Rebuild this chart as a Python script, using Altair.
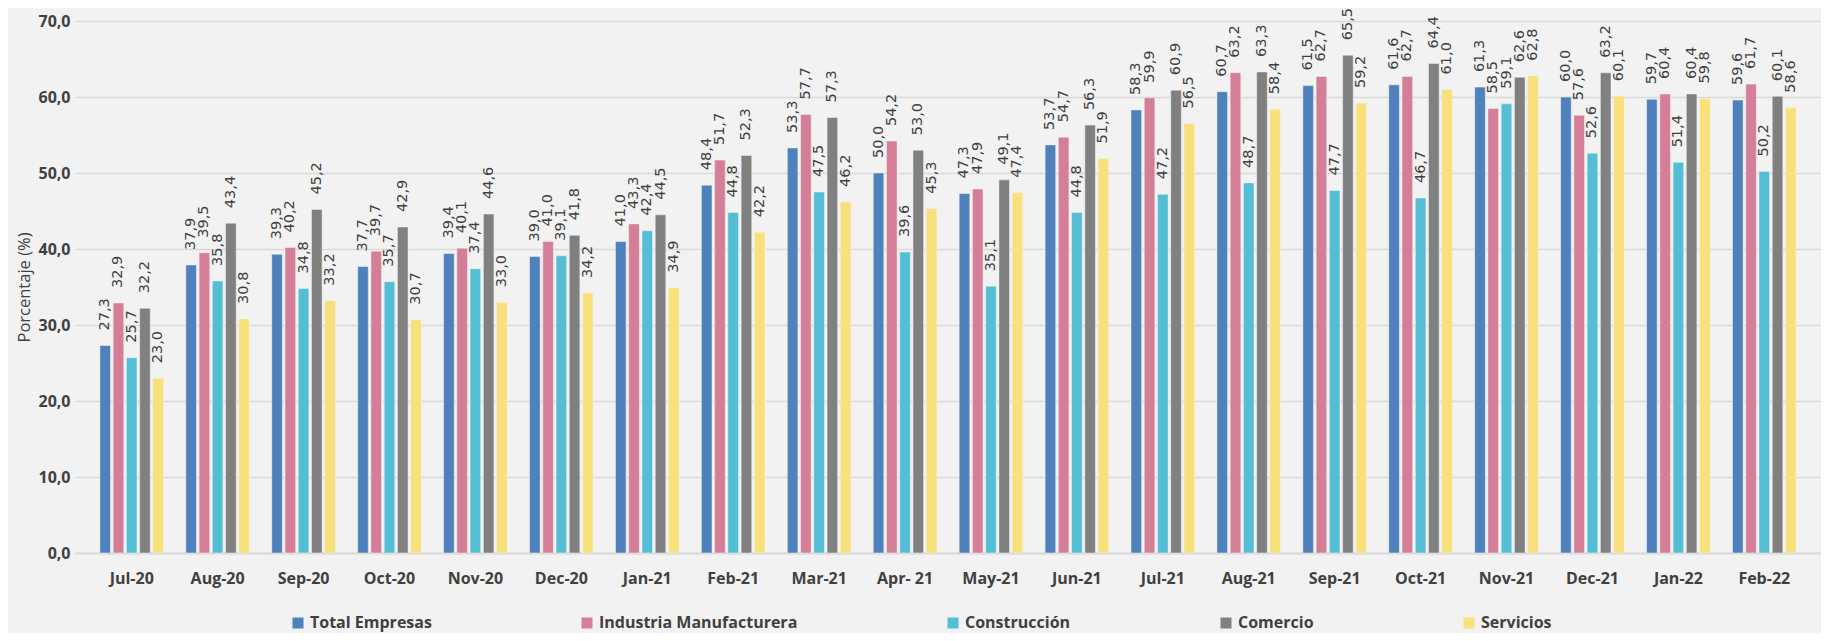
import altair as alt
import pandas as pd

months = ["Jul-20", "Aug-20", "Sep-20", "Oct-20", "Nov-20", "Dec-20", "Jan-21",
          "Feb-21", "Mar-21", "Apr- 21", "May-21", "Jun-21", "Jul-21", "Aug-21",
          "Sep-21", "Oct-21", "Nov-21", "Dec-21", "Jan-22", "Feb-22"]

series = ["Total Empresas", "Industria Manufacturera", "Construcción", "Comercio", "Servicios"]
colors = ["#4f81bd", "#d47e98", "#54bed5", "#808080", "#f8e07a"]

total_empresas = [27.3, 37.9, 39.3, 37.7, 39.4, 39.0, 41.0, 48.4, 53.3, 50.0,
                  47.3, 53.7, 58.3, 60.7, 61.5, 61.6, 61.3, 60.0, 59.7, 59.6]
industria = [32.9, 39.5, 40.2, 39.7, 40.1, 41.0, 43.3, 51.7, 57.7, 54.2,
             47.9, 54.7, 59.9, 63.2, 62.7, 62.7, 58.5, 57.6, 60.4, 61.7]
construccion = [25.7, 35.8, 34.8, 35.7, 37.4, 39.1, 42.4, 44.8, 47.5, 39.6,
                35.1, 44.8, 47.2, 48.7, 47.7, 46.7, 59.1, 52.6, 51.4, 50.2]
comercio = [32.2, 43.4, 45.2, 42.9, 44.6, 41.8, 44.5, 52.3, 57.3, 53.0,
            49.1, 56.3, 60.9, 63.3, 65.5, 64.4, 62.6, 63.2, 60.4, 60.1]
servicios = [23.0, 30.8, 33.2, 30.7, 33.0, 34.2, 34.9, 42.2, 46.2, 45.3,
             47.4, 51.9, 56.5, 58.4, 59.2, 61.0, 62.8, 60.1, 59.8, 58.6]

y_ticks = [0, 10, 20, 30, 40, 50, 60, 70]

values = [total_empresas, industria, construccion, comercio, servicios]
rows = []
for s, vals in zip(series, values):
    for m, v in zip(months, vals):
        rows.append({"mes": m, "serie": s, "valor": v,
                     "etiqueta": f"{v:.1f}".replace(".", ",")})
df = pd.DataFrame(rows)

x_scale = alt.Scale(paddingInner=0.26, paddingOuter=0.29)
y_scale = alt.Scale(domain=[0, 70], nice=False)

x_enc = alt.X("mes:N", sort=months, title=None, scale=x_scale,
              axis=alt.Axis(labelAngle=0, ticks=False, domain=True,
                            domainColor="#d9d9d9", domainWidth=2,
                            labelPadding=17, grid=False))
xoff = alt.XOffset("serie:N", sort=series, scale=alt.Scale(paddingInner=0.2))
y_enc = alt.Y("valor:Q", title="Porcentaje (%)", scale=y_scale,
              axis=alt.Axis(values=y_ticks,
                            labelExpr="replace(format(datum.value, '.1f'), '.', ',')",
                            ticks=False, domain=False, grid=True,
                            gridColor="#d9d9d9", gridWidth=1.5,
                            labelPadding=5, titlePadding=5,
                            titleFontSize=16.5))
color_enc = alt.Color("serie:N", sort=series,
                      scale=alt.Scale(domain=series, range=colors),
                      legend=alt.Legend(title=None, orient="none",
                                        direction="horizontal",
                                        legendX=215, legendY=594,
                                        symbolType="square", symbolSize=121,
                                        symbolStrokeWidth=0,
                                        labelFont="Open Sans", labelFontSize=16,
                                        labelFontWeight="bold",
                                        labelColor="#404040", labelLimit=400,
                                        labelOffset=4, columnPadding=147,
                                        padding=0))

bars = alt.Chart(df).mark_bar(stroke="#f2f2f2", strokeWidth=0.5).encode(
    x=x_enc, xOffset=xoff, y=y_enc, color=color_enc
)

labels = alt.Chart(df).mark_text(
    angle=270, align="left", baseline="middle", dx=15,
    font="DejaVu Sans", fontSize=14.5, color="#404040"
).encode(
    x=x_enc,
    xOffset=xoff,
    y=y_enc,
    text="etiqueta:N"
)

chart = alt.layer(bars, labels).properties(
    width=1746, height=532,
    autosize=alt.AutoSizeParams(type="none"),
    padding={"left": 67, "top": 13, "right": 0, "bottom": 80},
    background="#f2f2f2"
).configure_view(
    stroke=None
).configure_axis(
    labelFont="Open Sans", labelFontSize=16, labelFontWeight="bold",
    labelColor="#404040",
    titleFont="Open Sans", titleFontSize=16.5, titleFontWeight="normal",
    titleColor="#404040"
)

chart.save("out.html", embed_options={"renderer": "svg", "actions": False})
